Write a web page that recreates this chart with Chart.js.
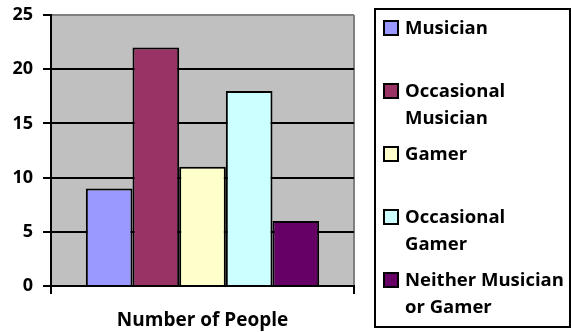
<!DOCTYPE html>
<html>
<head>
<meta charset="utf-8">
<script src="https://cdn.jsdelivr.net/npm/chart.js@4"></script>
<style>
  html, body { margin: 0; padding: 0; background: #fff; }
  #wrap { position: relative; width: 571px; height: 332px; }
  #legend { position: absolute; left: 374px; top: 8px; width: 193px; height: 316px; border: 2px solid #000; box-sizing: content-box; font-family: "Open Sans", sans-serif; font-weight: bold; font-size: 18.5px; }
  .item { position: absolute; left: 7px; line-height: 27px; }
  .box { position: absolute; left: 0; width: 12px; height: 12px; border: 2px solid #000; }
  .txt { position: absolute; left: 22px; white-space: nowrap; color: #000; }
</style>
</head>
<body>
<div id="wrap">
  <canvas id="c" width="571" height="332"></canvas>
  <div id="legend"></div>
</div>
<script>
const categories = ['Number of People'];
const seriesNames = ['Musician', 'Occasional Musician', 'Gamer', 'Occasional Gamer', 'Neither Musician or Gamer'];
const legendLines = [['Musician'], ['Occasional', 'Musician'], ['Gamer'], ['Occasional', 'Gamer'], ['Neither Musician', 'or Gamer']];
const seriesValues = [9, 22, 11, 18, 6];
const seriesColors = ['#9999FF', '#993366', '#FFFFCC', '#CCFFFF', '#660066'];
const yTicks = [0, 5, 10, 15, 20, 25];

const FONT = '"Open Sans", sans-serif';

const plotBg = {
  id: 'plotBg',
  beforeDraw(chart) {
    const a = chart.chartArea, ctx = chart.ctx;
    ctx.save();
    ctx.fillStyle = '#C0C0C0';
    ctx.fillRect(a.left, a.top, a.right - a.left, a.bottom - a.top);
    ctx.restore();
  }
};

const datasets = seriesNames.map((name, i) => ({
  label: name,
  data: [seriesValues[i]],
  backgroundColor: seriesColors[i],
  borderColor: '#000',
  borderWidth: 2,
  borderSkipped: 'bottom',
  categoryPercentage: 0.77,
  barPercentage: 1.0
}));

new Chart(document.getElementById('c'), {
  type: 'bar',
  data: { labels: categories, datasets },
  options: {
    responsive: false,
    animation: false,
    layout: { padding: { left: 0, right: 217, top: 15, bottom: 0 } },
    plugins: { legend: { display: false }, tooltip: { enabled: false } },
    scales: {
      x: {
        offset: true,
        grid: {
          offset: true,
          display: true,
          color: (ctx) => ctx.index === 0 ? '#000' : '#808080',
          tickColor: '#000',
          lineWidth: 2,
          tickLength: 8,
          drawTicks: true
        },
        border: { display: true, color: '#000', width: 2 },
        ticks: { color: '#000', font: { family: FONT, size: 19, weight: 'bold' }, padding: 15 },
        afterFit: (s) => { s.height = 46; s.paddingLeft = 0; s.paddingRight = 0; }
      },
      y: {
        min: 0, max: 25,
        afterBuildTicks: (s) => { s.ticks = yTicks.map(v => ({ value: v })); },
        grid: {
          color: (ctx) => ctx.tick && ctx.tick.value === 25 ? '#808080' : '#000',
          tickColor: '#000',
          lineWidth: 2,
          tickLength: 8
        },
        border: { display: true, color: '#000', width: 2 },
        ticks: { color: '#000', font: { family: FONT, size: 18, weight: 'bold' }, padding: 10 },
        afterFit: (s) => { s.width = 51; s.paddingTop = 0; s.paddingBottom = 0; }
      }
    }
  },
  plugins: [plotBg]
});

const legend = document.getElementById('legend');
legendLines.forEach((lines, i) => {
  const item = document.createElement('div');
  item.className = 'item';
  item.style.top = (3 + i * 63) + 'px';
  const box = document.createElement('div');
  box.className = 'box';
  box.style.top = '7px';
  box.style.background = seriesColors[i];
  const txt = document.createElement('div');
  txt.className = 'txt';
  txt.innerHTML = lines.join('<br>');
  item.appendChild(box);
  item.appendChild(txt);
  legend.appendChild(item);
});
</script>
</body>
</html>
